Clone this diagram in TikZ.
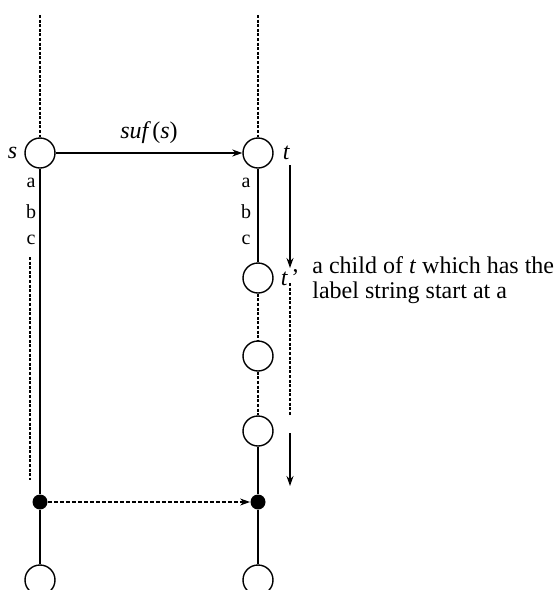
\documentclass[tikz,border=0pt]{standalone}
\usepackage{fontspec}
\setmainfont{Liberation Serif}
\usetikzlibrary{arrows.meta, positioning}

\begin{document}
\begin{tikzpicture}[
    x=0.5pt, y=-0.5pt,
    state/.style={draw, circle, line width=0.7pt, minimum size=15pt, inner sep=0pt},
    hit/.style={fill, circle, minimum size=7.5pt, inner sep=0pt},
    edge/.style={line width=0.6pt},
    dots/.style={line width=0.6pt, dash pattern=on 1.5pt off 0.8pt},
    arrow/.style={-{Stealth[length=5pt, width=3.5pt]}, line width=0.6pt},
    char/.style={font=\normalsize, inner sep=1pt}
]
\useasboundingbox (0,0) rectangle (553,590);

% left path
\coordinate (topl) at (40,15);
\node[state] (s) at (40,153) {};
\node[hit] (dl) at (40,502) {};
\node[state] (bl) at (40,580) {};
\node[left=0pt of s, font=\large\itshape] {s};
\node[char] at (31,183) {a};
\node[char] at (31,212) {b};
\node[char] at (31,240) {c};
\coordinate (gl1) at (30,257);
\coordinate (gl2) at (30,480);

% right path
\coordinate (topr) at (258,15);
\node[state] (t) at (258,153) {};
\node[state] (tp) at (258,278) {};
\node[state] (r1) at (258,356) {};
\node[state] (r2) at (258,431) {};
\node[hit] (dr) at (258,502) {};
\node[state] (br) at (258,580) {};
\node[right=1pt of t, font=\large\itshape] {t};
\node[right=0pt of tp, font=\large\itshape] (tpl) {t\upshape\,'};
\node[char] at (246,183) {a};
\node[char] at (246,212) {b};
\node[char] at (246,240) {c};
\node[anchor=base west, align=left, inner sep=0pt, font=\fontsize{12}{12.5}\selectfont] (note) at (312,298)
    {a child of \textit{t} which has the\\label string start at a};

% walk down from t
\coordinate (w1) at (290,165);
\coordinate (w2) at (290,268);
\coordinate (w3) at (290,283);
\coordinate (w4) at (290,415);
\coordinate (w5) at (290,433);
\coordinate (w6) at (290,486);

\draw[dots] (topl) -- (s);
\draw[edge] (s) -- (dl);
\draw[edge] (dl) -- (bl);
\draw[dots] (gl1) -- (gl2);

\draw[dots] (topr) -- (t);
\draw[edge] (t) -- (tp);
\draw[dots] (tp) -- (r1);
\draw[dots] (r1) -- (r2);
\draw[edge] (r2) -- (dr);
\draw[edge] (dr) -- (br);

\draw[arrow] (s) -- node[above, font=\large\itshape, yshift=1pt] {suf\,\upshape(\itshape s\upshape)} (t);
\draw[arrow, dash pattern=on 2pt off 1pt] (dl) -- (dr);

\draw[arrow] (w1) -- (w2);
\draw[dots] (w3) -- (w4);
\draw[arrow] (w5) -- (w6);
\end{tikzpicture}
\end{document}
